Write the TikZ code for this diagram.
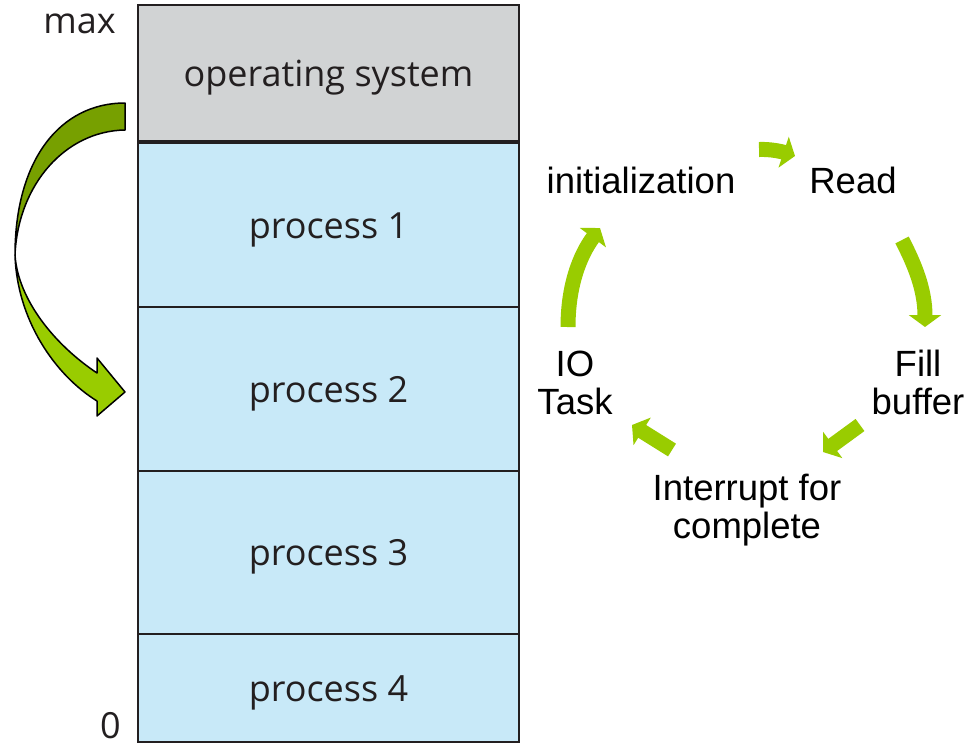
\documentclass[tikz,border=0pt]{standalone}
\usepackage{fontspec}
\setmainfont{Liberation Sans}
\newfontfamily\memfont{Open Sans}
\usetikzlibrary{arrows.meta}

\definecolor{osgray}{RGB}{209,211,212}
\definecolor{procblue}{RGB}{200,233,248}
\definecolor{inkgray}{RGB}{35,31,32}
\definecolor{leafgreen}{RGB}{153,204,0}
\definecolor{olivegreen}{RGB}{119,160,0}

\tikzset{
  memblk/.style={draw=inkgray, line width=2pt, minimum width=381pt,
    inner sep=0pt, outer sep=0pt, text=inkgray,
    text height=26pt, text depth=0pt,
    font=\memfont\fontsize{36}{42}\selectfont},
  memlabel/.style={text=inkgray, inner sep=0pt,
    font=\memfont\fontsize{36}{42}\selectfont},
  stagelabel/.style={align=center, inner sep=0pt,
    font=\fontsize{36.5}{38}\selectfont},
  cyclearrow/.style={draw=leafgreen, line width=15pt,
    -{Triangle[width=32pt,length=12pt]}},
  ribbon/.style={draw=black, line width=1.5pt, line join=round}
}

\begin{document}
\begin{tikzpicture}[x=1pt, y=1pt]
  \useasboundingbox (0,0) rectangle (969,-745);

  % memory layout column
  \node[memblk, fill=osgray,   minimum height=136pt] (os) at (328.5,-73)  {operating system};
  \node[memblk, fill=procblue, minimum height=164pt] (p1) at (328.5,-225) {process 1};
  \node[memblk, fill=procblue, minimum height=164pt] (p2) at (328.5,-389) {process 2};
  \node[memblk, fill=procblue, minimum height=163pt] (p3) at (328.5,-552.5) {process 3};
  \node[memblk, fill=procblue, minimum height=108pt] (p4) at (328.5,-688) {process 4};

  % address labels
  \node[memlabel, anchor=base east] (maxlbl) at (116,-33) {max};
  \node[memlabel, anchor=base east] (zerolbl) at (121,-738) {0};

  % twisted ribbon arrow: back face (upper) and front face with head (lower)
  \coordinate (rtop) at (15,-255);
  \fill[olivegreen] (125,-103) .. controls (60,-103) and (15,-160) .. (rtop)
        .. controls (18,-185) and (65,-131) .. (125,-130) -- cycle;
  \draw[ribbon] (125,-103) .. controls (60,-103) and (15,-160) .. (rtop)
        .. controls (18,-185) and (65,-131) .. (125,-130) -- cycle;
  \coordinate (rtip) at (125,-392);
  \fill[leafgreen] (rtop) .. controls (17,-320) and (55,-375) .. (97,-401)
        -- (97,-416) -- (rtip) -- (97,-358) -- (97,-373)
        .. controls (55,-345) and (18,-300) .. (rtop) -- cycle;
  \draw[ribbon] (rtop) .. controls (17,-320) and (55,-375) .. (97,-401)
        -- (97,-416) -- (rtip) -- (97,-358) -- (97,-373)
        .. controls (55,-345) and (18,-300) .. (rtop) -- cycle;

  % I/O cycle stages
  \node[stagelabel, anchor=base] (init) at (641,-193) {initialization};
  \node[stagelabel, anchor=base] (read) at (853,-193) {Read};
  \node[stagelabel] (fill) at (918,-382.5) {Fill\\buffer};
  \node[stagelabel] (intr) at (747,-510) {Interrupt for\\complete};
  \node[stagelabel] (iotask) at (575,-383) {IO\\Task};

  % arrow end points around the cycle
  \coordinate (a1s) at (759,-149.5);  \coordinate (a1e) at (795,-156);
  \coordinate (a2s) at (902,-240);    \coordinate (a2e) at (925,-327);
  \coordinate (a3s) at (860,-425);    \coordinate (a3e) at (823,-452);
  \coordinate (a4s) at (672,-450);    \coordinate (a4e) at (632,-425);
  \coordinate (a5s) at (568,-327);    \coordinate (a5e) at (600,-228);

  \draw[cyclearrow] (a1s) .. controls (772,-149) and (783,-152) .. (a1e);
  \draw[cyclearrow] (a2s) .. controls (915,-265) and (925,-290) .. (a2e);
  \draw[cyclearrow] (a3s) -- (a3e);
  \draw[cyclearrow] (a4s) -- (a4e);
  \draw[cyclearrow] (a5s) .. controls (568,-285) and (580,-255) .. (a5e);
\end{tikzpicture}
\end{document}
